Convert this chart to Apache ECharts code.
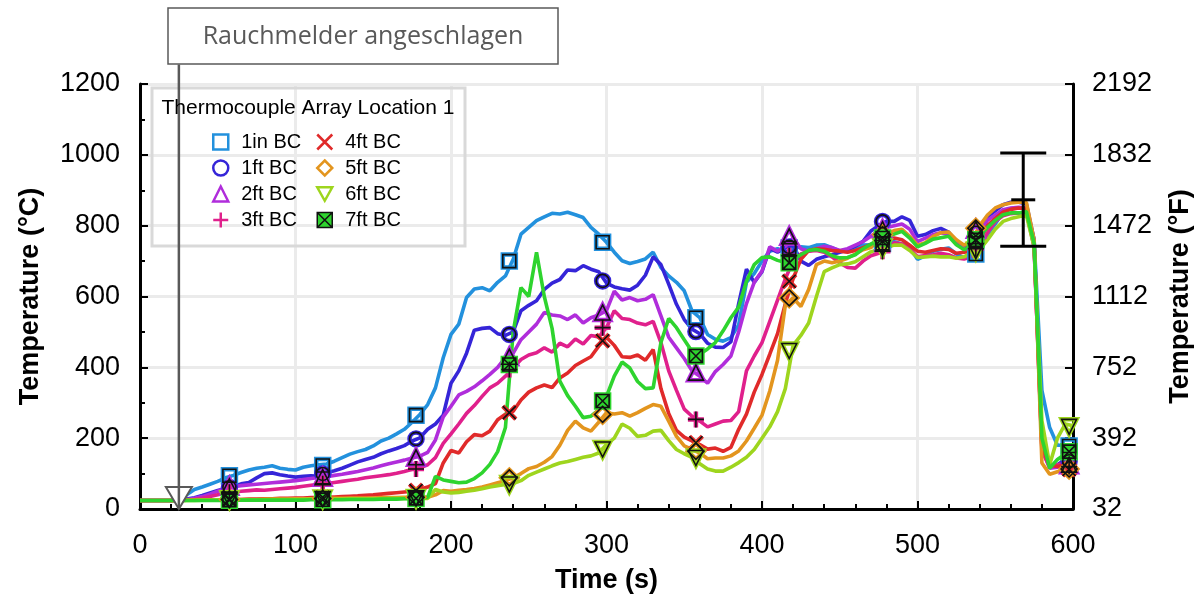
<!DOCTYPE html>
<html>
<head>
<meta charset="utf-8">
<script src="https://cdn.jsdelivr.net/npm/echarts@6/dist/echarts.min.js"></script>
<style>html,body{margin:0;padding:0;background:#fff;}#c{width:1203px;height:599px;}</style>
</head>
<body>
<div id="c"></div>
<script>
// ---------- DATA ----------
const seriesNames = ['1in BC','1ft BC','2ft BC','3ft BC','4ft BC','5ft BC','6ft BC','7ft BC'];

const timeS = [0,5,10,15,20,25,30,35,40,45,50,55,60,65,70,75,80,85,90,95,
100,105,110,115,120,125,130,135,140,145,150,155,160,165,170,175,180,185,190,195,
200,205,210,215,220,225,230,235,240,245,250,255,260,265,270,275,280,285,290,295,
300,305,310,315,320,325,330,335,340,345,350,355,360,365,370,375,380,385,390,395,
400,405,410,415,420,425,430,435,440,445,450,455,460,465,470,475,480,485,490,495,
500,505,510,515,520,525,530,535,540,545,550,555,560,565,570,575,580,585,590,595,600];

const t1in = [24,24,24,24,24,26,40,55,62,70,
78,88,95,103,110,115,118,122,115,112,
110,118,122,125,127,135,145,155,162,168,
178,192,200,212,225,245,267,295,342,427,
493,522,597,621,625,616,640,658,705,776,
795,814,825,835,833,838,831,823,795,776,
753,725,701,693,699,706,725,682,658,640,
616,559,540,493,479,474,484,520,640,665,
700,728,735,725,737,740,738,745,746,738,
728,728,735,745,746,746,750,755,748,738,
705,715,728,733,737,720,709,710,735,775,
805,838,848,850,850,760,335,230,180,180,178];

const t1ft = [24,24,24,24,24,24,28,32,38,45,
52,58,64,71,75,88,100,102,97,93,
90,92,94,92,102,108,115,124,133,140,
146,156,164,171,179,192,201,225,240,265,
355,390,440,505,510,512,495,490,500,560,
575,588,620,638,648,675,673,687,677,670,
638,627,622,618,632,660,712,690,635,578,
535,508,495,468,457,456,472,580,677,640,
670,735,725,737,745,700,688,705,712,718,
725,732,742,756,785,800,812,812,825,815,
770,775,786,792,782,755,740,745,780,825,
842,859,866,866,862,760,190,120,125,140,135];

const t2ft = [24,24,24,24,24,24,26,30,35,42,
50,58,63,66,68,70,72,74,76,78,
80,83,86,89,91,95,98,102,106,111,
116,122,128,133,138,144,149,160,195,260,
290,322,332,345,362,380,400,428,440,478,
500,522,555,548,545,535,548,525,540,548,
560,615,590,597,588,592,605,545,485,455,
425,390,375,355,388,408,432,500,580,640,
672,740,728,742,765,735,728,735,742,738,
730,735,745,755,770,785,795,800,805,790,
755,765,775,780,775,748,735,740,785,815,
830,845,850,852,850,740,170,115,118,135,130];

const t3ft = [24,24,24,24,24,24,25,27,30,35,
40,45,48,50,52,54,53,55,57,59,
61,64,67,70,72,75,78,81,84,88,
91,94,97,101,106,112,116,125,145,185,
212,240,270,292,318,342,355,375,398,422,
435,441,455,443,468,458,480,466,490,486,
512,560,538,535,525,520,530,470,390,335,
282,262,248,232,240,248,250,275,390,432,
470,530,590,650,700,720,728,730,725,712,
695,682,680,700,715,722,730,752,748,735,
712,716,718,722,718,709,706,712,737,780,
812,828,834,836,836,740,165,118,125,130,120];

const t4ft = [24,24,24,24,24,24,25,25,25,25,
26,26,27,27,28,28,29,29,30,30,
31,31,32,32,33,34,35,36,37,39,
40,42,44,46,48,50,56,62,72,130,
165,158,190,210,207,220,252,268,276,308,
330,342,350,343,370,384,405,418,430,460,
485,462,430,428,435,420,450,340,270,222,
203,192,182,169,172,163,174,225,268,330,
380,437,495,580,650,705,730,735,733,730,
728,725,730,738,746,753,758,765,760,745,
728,725,730,735,733,722,725,728,760,800,
820,838,846,850,848,745,175,125,120,125,112];

const t5ft = [24,24,24,24,24,24,25,25,25,25,
26,26,27,27,27,27,28,28,28,28,
29,29,29,30,30,30,30,31,31,31,
31,32,32,32,33,33,33,33,40,52,
50,53,55,58,62,68,74,80,88,100,
114,120,132,148,180,222,248,229,220,245,
272,268,272,262,272,284,295,290,248,205,
178,168,158,142,144,144,150,164,192,228,
265,333,420,575,596,572,620,690,700,695,
700,708,720,732,738,760,778,786,790,770,
745,752,770,780,782,760,745,760,800,830,
850,859,864,866,866,760,130,98,105,112,113];

const t6ft = [24,24,24,24,24,24,24,24,25,25,
25,25,26,26,26,26,26,27,27,27,
27,27,28,28,28,28,28,29,29,29,
29,29,30,30,30,30,30,30,55,48,
45,47,50,53,57,62,66,69,72,80,
95,104,113,122,130,134,140,146,150,158,
182,200,240,228,205,208,220,222,193,168,
156,146,128,113,107,107,118,131,146,168,
200,232,275,340,462,490,525,600,670,681,
690,692,698,712,726,733,738,745,745,730,
710,712,714,712,712,708,712,725,732,760,
790,812,820,825,830,740,250,125,200,240,235];

const t7ft = [24,24,24,24,24,24,24,24,24,24,
24,24,25,25,25,25,25,25,25,25,
25,25,26,26,26,26,26,27,27,27,
27,28,28,28,29,29,30,33,92,82,
78,74,76,86,102,126,162,230,500,625,
600,725,600,510,361,320,290,258,262,280,
318,375,415,398,360,340,342,470,538,512,
478,445,437,452,470,503,540,570,643,690,
710,712,702,696,705,718,730,733,728,715,
709,710,718,735,748,760,768,776,784,765,
740,750,762,766,770,746,732,745,770,795,
815,831,836,836,840,750,200,115,140,155,162];

const markerTimes = [57.5,117.5,177.5,237.5,297.5,357.5,417.5,477.5,537.5,597.5];
const m1in = [94,123,265,700,753,540,737,750,720,178];
const m1ft = [61,99,198,493,644,501,740,812,780,135];
const m2ft = [64,90,146,430,555,385,770,790,790,125];
const m3ft = [47,71,113,394,512,253,715,728,735,120];
const m4ft = [28,33,52,272,475,187,643,756,760,112];
const m5ft = [27,30,33,88,267,163,596,775,793,113];
const m6ft = [26,28,30,69,168,144,446,737,728,232];
const m7ft = [25,26,30,408,305,432,695,765,760,162];

// error bar (time, low, mid, high)
const errBar = [[568, 742, 873, 1005]];
// annotation: smoke detector activation time and top of leader line (°C scale units)
const annoTime = 25;
const annoTop = 1255;
const annoText = 'Rauchmelder angeschlagen';

const xTicks = {min:0, max:600, interval:100};
const yTicks = {min:0, max:1200, interval:200};

// ---------- STYLE ----------
const colors = ['#2391dd','#3525d8','#b02ddb','#e0208c','#e02a2a','#e3951e','#9ed51e','#2ed42e'];
const symbols = ['rect','circle','triangle','path://M5,0L5,10M0,5L10,5','path://M0,0L10,10M10,0L0,10','diamond','path://M0,0L10,0L5,9Z','path://M0,0L10,0L10,10L0,10ZM0,0L10,10M10,0L0,10'];
const symSizes = [13,13,15,16,13,16,15,13];
const fills = ['rgba(0,0,0,0)','rgba(0,0,0,0)','rgba(0,0,0,0)','rgba(0,0,0,0)','rgba(0,0,0,0)','rgba(0,0,0,0)','rgba(0,0,0,0)','#2ed42e'];
const legendBorders = ['#2391dd','#3525d8','#b02ddb','#e0208c','#e02a2a','#e3951e','#9ed51e','#111111'];
const legendBorderW = [2.5,2.5,2.5,2.5,2.5,2.5,2.5,1.5];
const FONT = 'Liberation Sans, Arial, sans-serif';

const lineVals = [t1in,t1ft,t2ft,t3ft,t4ft,t5ft,t6ft,t7ft];
const markVals = [m1in,m1ft,m2ft,m3ft,m4ft,m5ft,m6ft,m7ft];

const series = [];
seriesNames.forEach((n,i)=>{
  series.push({
    name:n, type:'line', data: timeS.map((t,k)=>[t, lineVals[i][k]]),
    showSymbol:false, symbol:'none', z:2, color: colors[i],
    lineStyle:{color:colors[i], width:3.6}, emphasis:{disabled:true}, silent:true
  });
});
seriesNames.forEach((n,i)=>{
  const pts = markerTimes.map((t,k)=>[t, markVals[i][k]]);
  series.push({
    name:n, type:'scatter', data:pts, symbol:symbols[i], symbolSize:symSizes[i], z:3,
    itemStyle:{color:fills[i], borderColor:colors[i], borderWidth:4.5, opacity:1},
    emphasis:{disabled:true}, silent:true
  });
  series.push({
    name:n, type:'scatter', data:pts, symbol:symbols[i], symbolSize:symSizes[i], z:4,
    itemStyle:{color:'rgba(0,0,0,0)', borderColor:'#111', borderWidth:1.6, opacity:1},
    emphasis:{disabled:true}, silent:true
  });
});
// error bar
series.push({
  type:'custom', data:errBar, z:6, clip:false, silent:true,
  renderItem:(params, api)=>{
    const t = api.value(0);
    const lo = api.coord([t, api.value(1)]);
    const mid = api.coord([t, api.value(2)]);
    const hi = api.coord([t, api.value(3)]);
    const st = {stroke:'#000', lineWidth:3};
    return {type:'group', children:[
      {type:'line', shape:{x1:lo[0],y1:lo[1],x2:hi[0],y2:hi[1]}, style:st},
      {type:'line', shape:{x1:hi[0]-23,y1:hi[1],x2:hi[0]+23,y2:hi[1]}, style:st},
      {type:'line', shape:{x1:lo[0]-23,y1:lo[1],x2:lo[0]+23,y2:lo[1]}, style:st},
      {type:'line', shape:{x1:mid[0]-12,y1:mid[1],x2:mid[0]+12,y2:mid[1]}, style:st}
    ]};
  }
});
// annotation leader line + triangle
series.push({
  type:'custom', data:[[annoTime, annoTop]], z:7, clip:false, silent:true,
  renderItem:(params, api)=>{
    const t = api.value(0);
    const tip = api.coord([t, 0]);
    const top = api.coord([t, api.value(1)]);
    return {type:'group', children:[
      {type:'line', shape:{x1:top[0],y1:top[1],x2:tip[0],y2:tip[1]}, style:{stroke:'#595959', lineWidth:2.5}},
      {type:'polygon', shape:{points:[[tip[0],tip[1]],[tip[0]-13,tip[1]-22],[tip[0]+13,tip[1]-22]]},
       style:{fill:'#ffffff', stroke:'#595959', lineWidth:2}},
      {type:'line', shape:{x1:tip[0],y1:tip[1]-22,x2:tip[0],y2:tip[1]}, style:{stroke:'#595959', lineWidth:2.5}}
    ]};
  }
});

function legendData(idx){
  return idx.map(i=>({name:seriesNames[i], icon:symbols[i],
    itemStyle:{color:fills[i], borderColor:legendBorders[i], borderWidth:legendBorderW[i]}}));
}
const legendCommon = {
  orient:'vertical', top:132, itemWidth:15, itemHeight:15, itemGap:6, padding:0, symbolKeepAspect:true,
  selectedMode:false, textStyle:{fontSize:20, lineHeight:20, color:'#000', fontFamily:FONT, padding:[0,0,0,8]}
};

const axisLineSt = {show:true, lineStyle:{color:'#000', width:3}};
const option = {
  animation:false,
  backgroundColor:'#fff',
  grid:{left:140, right:130, top:84, bottom:90, containLabel:false},
  legend:[
    Object.assign({left:212, data:legendData([0,1,2,3])}, legendCommon),
    Object.assign({left:316, data:legendData([4,5,6,7])}, legendCommon)
  ],
  xAxis:{
    type:'value', min:xTicks.min, max:xTicks.max, interval:xTicks.interval,
    axisLine:axisLineSt,
    axisTick:{show:true, inside:true, length:8, lineStyle:{color:'#000', width:2}},
    minorTick:{show:true, splitNumber:5, length:5, lineStyle:{color:'#000', width:2}},
    splitLine:{show:true, lineStyle:{color:'#ebebeb', width:3}},
    axisLabel:{fontSize:27, color:'#000', margin:23, fontFamily:FONT, showMinLabel:true, showMaxLabel:true,
      formatter:v=>String(v)},
    name:'Time (s)', nameLocation:'middle', nameGap:58,
    nameTextStyle:{fontSize:27, fontWeight:'bold', color:'#000', fontFamily:FONT}
  },
  yAxis:[{
    type:'value', position:'left', min:yTicks.min, max:yTicks.max, interval:yTicks.interval,
    axisLine:axisLineSt,
    axisTick:{show:true, inside:true, length:8, lineStyle:{color:'#000', width:2}},
    minorTick:{show:true, splitNumber:2, length:5, lineStyle:{color:'#000', width:2}},
    splitLine:{show:true, lineStyle:{color:'#ebebeb', width:3}},
    axisLabel:{fontSize:27, color:'#000', margin:20, fontFamily:FONT, showMinLabel:true, showMaxLabel:true,
      formatter:v=>String(v)},
    name:'Temperature (°C)', nameLocation:'middle', nameGap:96, nameRotate:90,
    nameTextStyle:{fontSize:27, fontWeight:'bold', color:'#000', fontFamily:FONT}
  },{
    type:'value', position:'right', min:yTicks.min, max:yTicks.max, interval:yTicks.interval,
    axisLine:axisLineSt,
    axisTick:{show:true, inside:true, length:8, lineStyle:{color:'#000', width:2}},
    splitLine:{show:false},
    axisLabel:{fontSize:27, color:'#000', margin:19, fontFamily:FONT, showMinLabel:true, showMaxLabel:true,
      formatter:v=>String(Math.round(v*1.8+32))},
    name:'Temperature (°F)', nameLocation:'middle', nameGap:94, nameRotate:90,
    nameTextStyle:{fontSize:27, fontWeight:'bold', color:'#000', fontFamily:FONT}
  }],
  graphic:[
    {type:'rect', z:1, shape:{x:152,y:88,width:313,height:158}, style:{fill:'none', stroke:'#d9d9d9', lineWidth:3}},
    {type:'text', z:10, x:308, y:108, style:{text:'Thermocouple Array Location 1', fontSize:21, fontFamily:FONT, fill:'#000', align:'center', verticalAlign:'middle'}},
    {type:'rect', z:10, shape:{x:168,y:8,width:390,height:56}, style:{fill:'#fff', stroke:'#595959', lineWidth:1.5}},
    {type:'text', z:11, x:363, y:37, style:{text:annoText, fontSize:25, fontFamily:'Open Sans, sans-serif', fill:'#595959', align:'center', verticalAlign:'middle'}}
  ],
  series:series
};
const chart = echarts.init(document.getElementById('c'), null, {renderer:'canvas'});
chart.setOption(option);
</script>
</body>
</html>
